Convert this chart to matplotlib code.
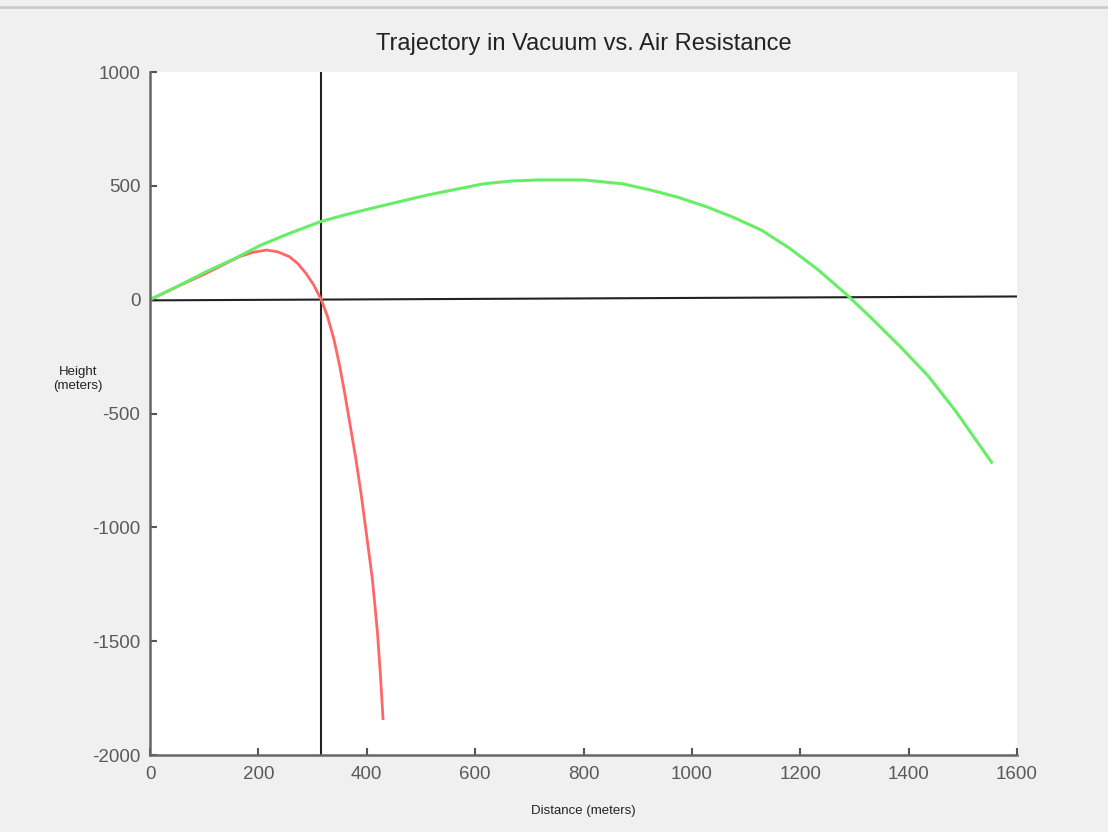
import numpy as np
import matplotlib.pyplot as plt
from matplotlib.lines import Line2D

plt.rcParams['font.family'] = ['Liberation Sans', 'DejaVu Sans']
plt.rcParams['axes.unicode_minus'] = False

# trajectory in vacuum (green)
vac_x = [0, 51, 103, 154, 205, 257, 315, 359, 410, 461, 513, 565, 616, 666, 718,
         800, 872, 923, 974, 1026, 1076, 1128, 1179, 1231, 1282, 1292, 1333,
         1384, 1436, 1487, 1553]
vac_y = [0, 59, 122, 178, 240, 291, 343, 372, 402, 431, 460, 485, 509, 521, 526,
         526, 509, 482, 450, 409, 362, 306, 228, 135, 30, 8, -85,
         -205, -335, -490, -714]

# trajectory with air resistance (red)
air_x = [0, 51, 103, 165, 190, 215, 236, 257, 273, 288, 302, 316, 327, 339, 350,
         360, 370, 380, 390, 400, 410, 415, 420, 425, 430]
air_y = [0, 58, 115, 189, 208, 218, 210, 189, 158, 115, 65, 0, -70, -170, -290,
         -420, -560, -700, -860, -1040, -1220, -1340, -1470, -1640, -1840]

# reference lines
ground_x = [0, 1600]
ground_y = [-3, 14]
impact_x = [315, 315]
impact_y = [-2000, 1000]

x_ticks = [0, 200, 400, 600, 800, 1000, 1200, 1400, 1600]
y_ticks = [-2000, -1500, -1000, -500, 0, 500, 1000]

fig = plt.figure(figsize=(11.08, 8.32), dpi=100, facecolor='#f0f0f0')
ax = fig.add_axes([150/1108, 1 - 755/832, 867/1108, 683/832])
ax.set_facecolor('white')

ax.plot(ground_x, ground_y, color='#222222', linewidth=1.5)
ax.plot(impact_x, impact_y, color='#222222', linewidth=1.5)
ax.plot(air_x, air_y, color='#ff6666', linewidth=2)
ax.plot(vac_x, vac_y, color='#66ee66', linewidth=2.2)

ax.set_xlim(0, 1600)
ax.set_ylim(-2000, 1000)
ax.set_xticks(x_ticks)
ax.set_yticks(y_ticks)

for s in ['top', 'right']:
    ax.spines[s].set_visible(False)
for s in ['left', 'bottom']:
    ax.spines[s].set_color('#666666')
    ax.spines[s].set_linewidth(1.8)

ax.tick_params(direction='in', length=5, width=1.5, color='#555555',
               labelcolor='#5a5a5a', labelsize=13.5)
ax.tick_params(axis='x', pad=8)
ax.tick_params(axis='y', pad=7)

ax.set_title('Trajectory in Vacuum vs. Air Resistance', fontsize=17, pad=16, color='#222222')
ax.set_xlabel('Distance (meters)', fontsize=9.5, labelpad=16, color='#222222')
ax.set_ylabel('Height\n(meters)', fontsize=9.5, rotation=0, color='#222222',
              ha='center', va='center')
ax.yaxis.set_label_coords(-0.083, 0.55)

# thin border line at the very top of the window
fig.add_artist(Line2D([0, 1], [1 - 7/832, 1 - 7/832], color='#cccccc', linewidth=2))

fig.savefig('out.png', dpi=100, facecolor=fig.get_facecolor())
